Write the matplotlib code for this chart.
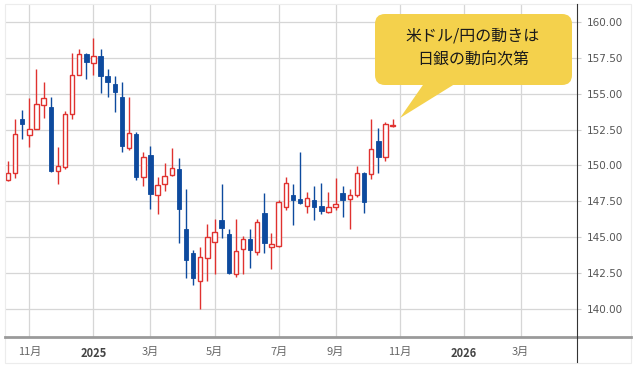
import numpy as np
import pandas as pd
import matplotlib
matplotlib.use("Agg")
import matplotlib.pyplot as plt
from matplotlib.patches import FancyBboxPatch, Polygon, Rectangle
from matplotlib.lines import Line2D
from matplotlib.transforms import Affine2D

W, H = 635, 370

# weekly USD/JPY candles, first week starting 2024-10-14
week_start = "2024-10-14"
opens = [148.97, 149.44, 153.23, 152.11, 152.55, 154.19, 154.05, 149.58, 149.86, 153.58,
         156.30, 157.75, 157.12, 157.65, 156.23, 155.65, 154.75, 151.19, 152.18, 149.20,
         150.70, 147.93, 148.70, 149.32, 149.72, 145.53, 143.86, 141.95, 143.51, 144.67,
         146.18, 145.21, 142.41, 144.14, 144.84, 143.97, 146.65, 144.28, 144.37, 147.07,
         147.93, 147.67, 147.16, 147.58, 147.16, 146.76, 147.07, 148.05, 147.63, 147.93,
         149.48, 149.39, 151.72, 150.60, 152.76]
highs = [150.30, 153.21, 153.86, 154.67, 156.72, 155.83, 154.79, 151.30, 153.79, 157.86,
         158.12, 157.86, 158.86, 158.12, 156.72, 156.23, 155.83, 154.79, 152.35, 150.95,
         151.35, 149.20, 150.18, 151.19, 150.50, 148.33, 144.09, 144.28, 145.90, 146.23,
         148.67, 145.53, 146.23, 145.07, 145.53, 146.23, 148.05, 145.25, 147.58, 149.20,
         148.70, 150.95, 148.16, 148.56, 148.79, 148.16, 149.09, 148.56, 148.33, 149.95,
         149.55, 153.21, 152.58, 153.04, 153.21]
lows = [148.90, 149.09, 151.81, 151.30, 152.51, 153.28, 149.55, 148.70, 149.72, 153.21,
        156.28, 156.00, 156.30, 155.02, 154.79, 153.74, 150.95, 151.10, 148.97, 148.58,
        146.95, 146.58, 148.21, 149.27, 144.60, 142.11, 141.65, 139.95, 141.95, 142.41,
        144.91, 142.41, 142.23, 142.41, 142.81, 143.74, 143.90, 142.74, 144.32, 146.88,
        145.83, 147.30, 146.65, 146.18, 146.60, 146.69, 146.88, 146.37, 145.53, 147.80,
        146.65, 149.02, 149.44, 150.32, 152.65]
closes = [149.44, 152.18, 152.86, 152.53, 154.28, 154.67, 149.62, 149.97, 153.58, 156.30,
          157.75, 157.23, 157.65, 156.23, 155.83, 155.12, 151.35, 152.23, 149.16, 150.60,
          148.00, 148.63, 149.27, 149.79, 146.93, 143.39, 142.11, 143.62, 144.98, 145.32,
          145.60, 142.51, 144.04, 144.84, 144.09, 146.06, 144.60, 144.51, 147.46, 148.79,
          147.58, 147.35, 147.70, 147.11, 146.83, 147.07, 147.30, 147.58, 147.93, 149.44,
          147.46, 151.12, 150.60, 152.88, 152.83]

tick_months = [(2024, 11), (2025, 1), (2025, 3), (2025, 5), (2025, 7), (2025, 9),
               (2025, 11), (2026, 1), (2026, 3)]
tick_labels = ["11月", "2025", "3月", "5月", "7月", "9月", "11月", "2026", "3月"]
y_ticks = [140.0, 142.5, 145.0, 147.5, 150.0, 152.5, 155.0, 157.5, 160.0]
callout_lines = ["米ドル/円の動きは", "日銀の動向次第"]

RED = "#e0322f"
BLUE = "#0d4a9e"
YELLOW = "#f4d14c"

plt.rcParams['font.family'] = ['Noto Sans CJK JP', 'DejaVu Sans']

o = np.array(opens)
h = np.array(highs)
l = np.array(lows)
c = np.array(closes)
x = np.arange(len(o))
up = c >= o

weeks = pd.date_range(week_start, periods=90, freq="7D")
tick_pos = [int(np.argmax((weeks.year == yy) & (weeks.month == mm))) for yy, mm in tick_months]

fig = plt.figure(figsize=(W / 100, H / 100), dpi=100)
ax = fig.add_axes([5 / W, 1 - 337 / H, 572 / W, 333 / H])

# wicks
ax.vlines(x[up], l[up], h[up], color=RED, lw=1.0, zorder=2)
ax.vlines(x[~up], l[~up], h[~up], color=BLUE, lw=1.0, zorder=2)

# bodies
bw = 0.62
hu = np.maximum(c[up] - o[up], 0.06)
ax.bar(x[up], hu, bottom=o[up], width=bw, facecolor="white", edgecolor=RED, lw=1.0, zorder=3)
hd = np.maximum(o[~up] - c[~up], 0.06)
ax.bar(x[~up], hd, bottom=c[~up], width=bw, facecolor=BLUE, edgecolor=BLUE, lw=0.6, zorder=3)

ax.set_xlim(-0.42, 79.9)
ax.set_ylim(138.02, 161.26)

ax.set_xticks(tick_pos)
ax.set_xticklabels(tick_labels)
ax.set_yticks(y_ticks)
ax.set_yticklabels([f"{v:.2f}" for v in y_ticks], family="DejaVu Sans")
ax.yaxis.tick_right()

ax.tick_params(axis="x", length=0, pad=7, labelsize=8, labelcolor="#666666")
ax.tick_params(axis="y", length=3, width=0.8, color="#cccccc", pad=4,
               labelsize=7.5, labelcolor="#555555")
for lab in ax.get_xticklabels():
    if lab.get_text().isdigit():
        lab.set_fontweight("bold")
        lab.set_color("#444444")

ax.grid(True, color="#d6d6d6", lw=0.9, zorder=0)
ax.set_axisbelow(True)
for s in ax.spines.values():
    s.set_visible(False)

# pixel coordinates, origin top-left
px = Affine2D().scale(1, -1).translate(0, H)

fig.add_artist(Rectangle((5, 4), 626, 359, transform=px, fill=False,
                         edgecolor="#ececec", lw=0.8))
fig.add_artist(Line2D([5, 631], [337, 337], transform=px, color="#9a9a9a", lw=2.0))
fig.add_artist(Line2D([577, 577], [4, 362], transform=px, color="#333333", lw=0.8))

# speech bubble
fig.add_artist(Polygon([(425, 82), (458, 82), (400, 118)], closed=True, transform=px,
                       facecolor=YELLOW, edgecolor="none"))
fig.add_artist(FancyBboxPatch((385, 24), 177, 51, boxstyle="round,pad=10,rounding_size=10",
                              transform=px, facecolor=YELLOW, edgecolor="none"))
fig.text(473, 36, callout_lines[0], transform=px, ha="center", va="center",
         fontsize=11.5, color="#1a1a1a")
fig.text(473, 60, callout_lines[1], transform=px, ha="center", va="center",
         fontsize=11.5, color="#1a1a1a")

fig.savefig("out.png", dpi=100)
